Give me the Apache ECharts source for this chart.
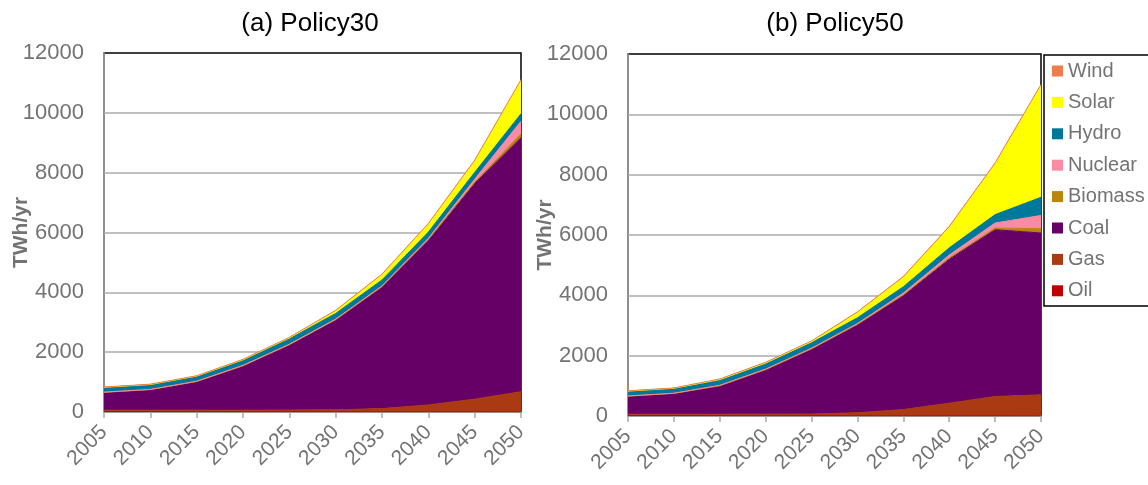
<!DOCTYPE html>
<html>
<head>
<meta charset="utf-8">
<script src="https://cdn.jsdelivr.net/npm/echarts@6/dist/echarts.min.js"></script>
<style>
  html, body { margin: 0; padding: 0; background: #fff; }
  #chart { width: 1148px; height: 485px; }
</style>
</head>
<body>
<div id="chart"></div>
<script>
// Electricity generation by source (TWh/yr), two policy scenarios
const years = ['2005', '2010', '2015', '2020', '2025', '2030', '2035', '2040', '2045', '2050'];
const yTicks = [0, 2000, 4000, 6000, 8000, 10000, 12000];

// (a) Policy30
const p30Oil     = [15, 15, 12, 10, 10, 8, 5, 5, 5, 5];
const p30Gas     = [45, 45, 48, 50, 55, 65, 110, 230, 425, 675];
const p30Coal    = [595, 685, 952, 1476, 2173, 3000, 4060, 5510, 7210, 8490];
const p30Biomass = [2, 3, 5, 8, 10, 12, 15, 20, 40, 130];
const p30Nuclear = [8, 8, 12, 15, 18, 20, 25, 40, 100, 420];
const p30Hydro   = [160, 162, 165, 170, 180, 190, 200, 210, 230, 250];
const p30Solar   = [0, 0, 5, 15, 30, 85, 170, 260, 375, 1100];
const p30Wind    = [10, 12, 13, 16, 19, 20, 25, 28, 32, 40];

// (b) Policy50
const p50Oil     = [15, 15, 12, 10, 10, 8, 5, 5, 5, 5];
const p50Gas     = [45, 45, 48, 50, 55, 100, 210, 420, 640, 697];
const p50Coal    = [595, 685, 936, 1467, 2149, 2913, 3779, 4775, 5530, 5364];
const p50Biomass = [2, 3, 7, 10, 12, 15, 20, 35, 55, 143];
const p50Nuclear = [8, 8, 15, 18, 22, 30, 60, 100, 166, 440];
const p50Hydro   = [160, 162, 170, 175, 180, 190, 210, 240, 280, 600];
const p50Solar   = [0, 0, 20, 30, 40, 172, 311, 675, 1674, 3696];
const p50Wind    = [10, 12, 20, 22, 22, 25, 30, 35, 40, 45];

const sources = ['Oil', 'Gas', 'Coal', 'Biomass', 'Nuclear', 'Hydro', 'Solar', 'Wind'];
const colors = {
  Oil: '#C00000', Gas: '#A93A12', Coal: '#660066', Biomass: '#B8860B',
  Nuclear: '#F98BA5', Hydro: '#00789A', Solar: '#FFFF00', Wind: '#EE7D4B'
};
const p30 = { Oil: p30Oil, Gas: p30Gas, Coal: p30Coal, Biomass: p30Biomass,
  Nuclear: p30Nuclear, Hydro: p30Hydro, Solar: p30Solar, Wind: p30Wind };
const p50 = { Oil: p50Oil, Gas: p50Gas, Coal: p50Coal, Biomass: p50Biomass,
  Nuclear: p50Nuclear, Hydro: p50Hydro, Solar: p50Solar, Wind: p50Wind };

const FONT = '"Liberation Sans", Arial, sans-serif';
const GRAY = '#737373';
const GRID_GRAY = '#ABABAB';

function xAxis(gridIndex) {
  return {
    type: 'category', gridIndex, data: years, boundaryGap: false,
    axisLine: { lineStyle: { color: GRID_GRAY, width: 1.5 } },
    axisTick: { show: true, alignWithLabel: true, length: 6, lineStyle: { color: GRID_GRAY, width: 1.5 } },
    axisLabel: { rotate: 45, color: GRAY, fontSize: 21, fontFamily: FONT, margin: 17 }
  };
}
function yAxis(gridIndex) {
  return {
    type: 'value', gridIndex, min: 0, max: 12000, interval: 2000,
    name: 'TWh/yr', nameLocation: 'middle', nameGap: 72, nameRotate: 90, nameMoveOverlap: false,
    nameTextStyle: { color: GRAY, fontSize: 21, fontWeight: 'bold', fontFamily: FONT },
    axisLine: { show: true, lineStyle: { color: GRID_GRAY, width: 1.5 } },
    axisTick: { show: false },
    splitLine: { showMaxLine: false, lineStyle: { color: GRID_GRAY, width: 1.5 } },
    axisLabel: {
      color: GRAY, fontSize: 22, fontFamily: FONT, margin: 20,
      formatter: v => (yTicks.includes(v) ? String(v) : '')
    }
  };
}

function seriesFor(data, idx, stack) {
  return sources.map(name => ({
    name, type: 'line', stack, xAxisIndex: idx, yAxisIndex: idx,
    data: data[name], symbol: 'none', smooth: false,
    lineStyle: { width: 1, color: colors[name] },
    areaStyle: { color: colors[name], opacity: 1 },
    itemStyle: { color: colors[name] },
    emphasis: { disabled: true }
  }));
}

const chart = echarts.init(document.getElementById('chart'), null, { renderer: 'canvas' });
chart.setOption({
  animation: false,
  backgroundColor: '#fff',
  textStyle: { fontFamily: FONT },
  title: [
    { text: '(a) Policy30', left: 305, top: 6, textAlign: 'center',
      textStyle: { color: '#000', fontSize: 26, fontWeight: 'normal', fontFamily: FONT } },
    { text: '(b) Policy50', left: 830, top: 6, textAlign: 'center',
      textStyle: { color: '#000', fontSize: 26, fontWeight: 'normal', fontFamily: FONT } }
  ],
  grid: [
    { left: 104, right: 627, top: 53, bottom: 73, containLabel: false, outerBoundsMode: 'none',
      show: true, borderColor: '#000', borderWidth: 1.5, backgroundColor: 'transparent' },
    { left: 628, right: 107, top: 54, bottom: 69, containLabel: false, outerBoundsMode: 'none',
      show: true, borderColor: '#000', borderWidth: 1.5, backgroundColor: 'transparent' }
  ],
  xAxis: [xAxis(0), xAxis(1)],
  yAxis: [yAxis(0), yAxis(1)],
  legend: {
    orient: 'vertical', left: 1047, top: 56, padding: 5,
    data: sources.slice().reverse(),
    icon: 'rect', itemWidth: 11, itemHeight: 11, itemGap: 11.4,
    textStyle: { color: GRAY, fontSize: 20, fontFamily: FONT, lineHeight: 20 },
    selectedMode: false
  },
  graphic: [
    { type: 'rect', shape: { x: 1044, y: 55, width: 120, height: 251 },
      style: { fill: 'none', stroke: '#000', lineWidth: 1.5 }, z: 10 }
  ],
  series: [...seriesFor(p30, 0, 'a'), ...seriesFor(p50, 1, 'b')]
});
</script>
</body>
</html>
